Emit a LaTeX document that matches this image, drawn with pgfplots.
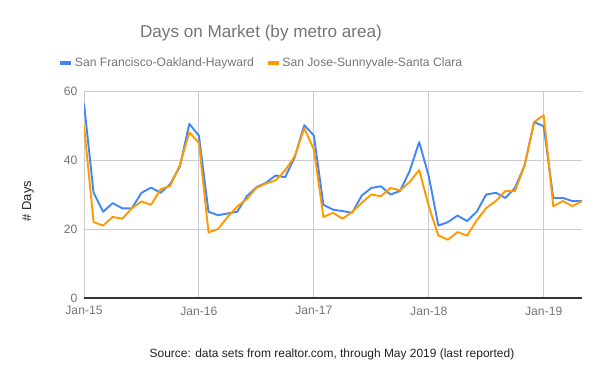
\documentclass[border=0pt]{standalone}
\usepackage{pgfplots}
\pgfplotsset{compat=1.18}
\usepackage{fontspec}
\setmainfont{Liberation Sans}
\definecolor{sfblue}{HTML}{4285F4}
\definecolor{sjorange}{HTML}{FF9900}
\definecolor{txtgray}{HTML}{757575}
\definecolor{gridgray}{HTML}{CCCCCC}
\definecolor{darktxt}{HTML}{222222}
\definecolor{axisdark}{HTML}{333333}
\begin{document}
\begin{tikzpicture}[x=1bp,y=1bp]
\useasboundingbox (0,0) rectangle (600,371);
\begin{axis}[
  at={(84bp,73bp)}, anchor=south west,
  scale only axis, width=498bp, height=207bp,
  xmin=0, xmax=52, ymin=0, ymax=60,
  xtick={0,12,24,36,48},
  xticklabels={Jan-15,Jan-16,Jan-17,Jan-18,Jan-19},
  ytick={0,20,40,60},
  grid=major,
  grid style={gridgray, line width=0.9bp},
  axis lines*=left,
  x axis line style={-, axisdark, line width=1.3bp},
  y axis line style={draw=none},
  major tick length=0pt,
  tick style={draw=none},
  /pgf/number format/assume math mode=true,
  tick label style={font=\fontsize{12.2}{14}\selectfont, text=txtgray},
  xticklabel style={yshift=-5bp},
  yticklabel style={xshift=-3bp},
  legend style={at={(rel axis cs:0.356,1.135)}, anchor=center, draw=none, fill=none,
    font=\fontsize{12.2}{14}\selectfont, text=txtgray,
    /tikz/every even column/.append style={column sep=10bp}},
  legend columns=2,
  legend image code/.code={\draw[line width=3.5bp] (0bp,0bp) -- (11bp,0bp);},
]
\addplot[sfblue, line width=1.9bp, line join=round] coordinates {
(0,56.4) (1,30.5) (2,25.0) (3,27.5) (4,26.0) (5,26.0) (6,30.5) (7,32.0) (8,30.5) (9,33.0)
(10,38.0) (11,50.5) (12,47.0) (13,25.0) (14,24.0) (15,24.5) (16,25.0) (17,29.5) (18,32.1) (19,33.4)
(20,35.5) (21,35.0) (22,40.8) (23,50.1) (24,47.1) (25,27.0) (26,25.6) (27,25.2) (28,24.7) (29,29.7)
(30,31.9) (31,32.4) (32,30.0) (33,31.0) (34,36.8) (35,45.2) (36,35.3) (37,21.0) (38,22.0) (39,23.9)
(40,22.3) (41,25.0) (42,30.0) (43,30.5) (44,29.0) (45,31.9) (46,38.4) (47,51.0) (48,49.8) (49,29.0)
(50,29.0) (51,28.1) (52,28.1)
};
\addlegendentry{San Francisco-Oakland-Hayward}
\addplot[sjorange, line width=1.9bp, line join=round] coordinates {
(0,50.0) (1,22.0) (2,21.0) (3,23.5) (4,23.0) (5,26.0) (6,28.0) (7,27.0) (8,31.5) (9,32.5)
(10,38.5) (11,48.0) (12,45.0) (13,19.0) (14,20.0) (15,23.5) (16,26.5) (17,28.7) (18,31.9) (19,33.2)
(20,34.1) (21,37.0) (22,41.1) (23,49.2) (24,43.1) (25,23.5) (26,24.7) (27,23.0) (28,24.9) (29,27.6)
(30,30.0) (31,29.5) (32,31.9) (33,31.2) (34,33.6) (35,37.1) (36,26.6) (37,18.1) (38,16.9) (39,19.1)
(40,18.1) (41,22.5) (42,26.1) (43,28.1) (44,31.0) (45,31.0) (46,38.4) (47,51.0) (48,53.0) (49,26.6)
(50,28.1) (51,26.6) (52,28.1)
};
\addlegendentry{San Jose-Sunnyvale-Santa Clara}
\end{axis}
\node[text=txtgray, font=\fontsize{17.2}{20}\selectfont] at (261,338) {Days on Market (by metro area)};
\node[text=darktxt, font=\fontsize{13}{15}\selectfont, rotate=90] at (28,170) {\# Days};
\node[text=darktxt, font=\fontsize{12}{14}\selectfont] at (332,17) {Source: data sets from realtor.com, through May 2019 (last reported)};
\end{tikzpicture}
\end{document}
